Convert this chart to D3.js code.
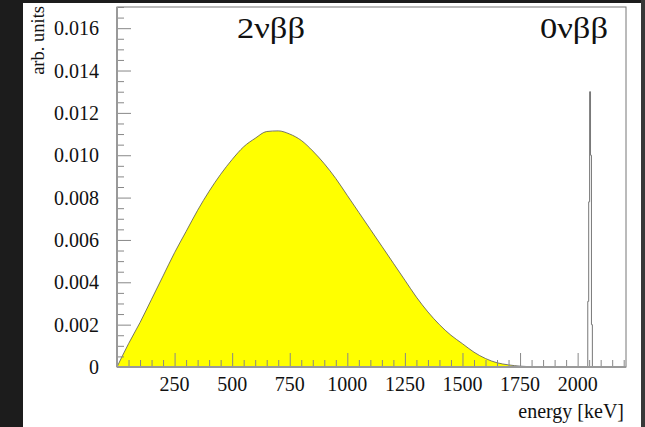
<!DOCTYPE html>
<html>
<head>
<meta charset="utf-8">
<script src="https://cdn.jsdelivr.net/npm/d3@7"></script>
<style>
    html, body { margin: 0; padding: 0; background: #1a1a1a; }
    svg { display: block; }
    text { font-family: 'Liberation Serif', 'DejaVu Serif', serif; fill: #111; }
</style>
</head>
<body>
<div id="chart"></div>
<script>
// tick labels
const xTicks = [250, 500, 750, 1000, 1250, 1500, 1750, 2000];
const yTicks = [0, 0.002, 0.004, 0.006, 0.008, 0.01, 0.012, 0.014, 0.016];

// 2 neutrino spectrum
const twoNuEnergy = [0, 50, 100, 150, 200, 250, 300, 350, 400, 450, 500, 550, 600, 650,
    700, 750, 800, 850, 900, 950, 1000, 1050, 1100, 1150, 1200, 1250, 1300, 1350, 1400,
    1450, 1500, 1550, 1600, 1650, 1700, 1750, 1800, 1830];
const twoNuValue = [0, 0.0011, 0.0021, 0.0032, 0.0043, 0.0054, 0.0064, 0.0074, 0.0083,
    0.0091, 0.0098, 0.0104, 0.0108, 0.01112, 0.01115, 0.011, 0.0107, 0.0102, 0.0096, 0.0089,
    0.0081, 0.0073, 0.0065, 0.0057, 0.0049, 0.0041, 0.0033, 0.0026, 0.002, 0.0015, 0.0011,
    0.0007, 0.0004, 0.0002, 0.0001, 0.00004, 0.00001, 0];

// 0 neutrino peak bins
const zeroNuEnergy = [2040, 2044, 2048, 2052, 2056, 2060, 2064, 2068];
const zeroNuValue = [0, 0.0031, 0.0078, 0.013, 0.01, 0.002, 0, 0];

const W = 645;
const H = 427;
const margin = { top: 7, right: 19, bottom: 60, left: 117 };

const svg = d3.select('#chart').append('svg')
    .attr('width', W)
    .attr('height', H);

// page background
svg.append('rect').attr('width', W).attr('height', H).attr('fill', '#1c1c1c');
svg.append('rect').attr('x', W - 4).attr('width', 4).attr('height', H).attr('fill', '#383838');
svg.append('rect').attr('x', 23).attr('y', 3).attr('width', W - 4 - 23).attr('height', H - 3)
    .attr('fill', '#fff');

const x = d3.scaleLinear().domain([0, 2210]).range([margin.left, W - margin.right]);
const y = d3.scaleLinear().domain([0, 0.017]).range([H - margin.bottom, margin.top]);

// spectrum
const twoNu = twoNuEnergy.map((e, i) => [e, twoNuValue[i]]);
const area = d3.area()
    .x((d) => x(d[0]))
    .y0(y(0))
    .y1((d) => y(d[1]))
    .curve(d3.curveMonotoneX);
svg.append('path')
    .datum(twoNu)
    .attr('d', area)
    .attr('fill', '#ffff00');
svg.append('path')
    .datum(twoNu)
    .attr('d', area.lineY1())
    .attr('fill', 'none')
    .attr('stroke', '#555')
    .attr('stroke-width', 0.8);

// peak
const zeroNu = zeroNuEnergy.map((e, i) => [e, zeroNuValue[i]]);
svg.append('path')
    .datum(zeroNu)
    .attr('d', d3.line().x((d) => x(d[0])).y((d) => y(d[1])).curve(d3.curveStepAfter))
    .attr('fill', 'none')
    .attr('stroke', '#777')
    .attr('stroke-width', 1);

// frame
svg.append('rect')
    .attr('x', x(0)).attr('y', y(0.017))
    .attr('width', x(2210) - x(0)).attr('height', y(0) - y(0.017))
    .attr('fill', 'none').attr('stroke', '#777').attr('stroke-width', 1);

// y axis: ticks point inward
const yAxis = svg.append('g').attr('transform', `translate(${x(0)},0)`);
yAxis.call(d3.axisRight(y).tickValues(d3.range(0, 0.01701, 0.0005)).tickSize(7).tickFormat(''));
yAxis.selectAll('.tick').filter((d) => yTicks.some((t) => Math.abs(t - d) < 1e-9))
    .select('line').attr('x2', 14);
yAxis.select('.domain').remove();
yAxis.selectAll('line').attr('stroke', '#888');
yAxis.selectAll('.tick text').remove();
svg.append('g').selectAll('text')
    .data(yTicks)
    .join('text')
    .attr('x', 99)
    .attr('y', (d) => y(d) + 7)
    .attr('text-anchor', 'end')
    .attr('font-size', 20)
    .text((d) => (d === 0 ? '0' : d3.format('.3f')(d)));

// x axis
const xAxis = svg.append('g').attr('transform', `translate(0,${y(0)})`);
xAxis.call(d3.axisTop(x).tickValues(d3.range(50, 2210, 50)).tickSize(7).tickFormat(''));
xAxis.selectAll('.tick').filter((d) => d % 250 === 0).select('line').attr('y2', -14);
xAxis.select('.domain').remove();
xAxis.selectAll('line').attr('stroke', '#888');
svg.append('g').selectAll('text')
    .data(xTicks)
    .join('text')
    .attr('x', (d) => x(d))
    .attr('y', 391)
    .attr('text-anchor', 'middle')
    .attr('font-size', 20)
    .text((d) => d);

// axis lines
svg.append('line').attr('x1', x(0)).attr('x2', x(0)).attr('y1', y(0)).attr('y2', y(0.017))
    .attr('stroke', '#999').attr('stroke-width', 2);
svg.append('line').attr('x1', x(0)).attr('x2', x(2210)).attr('y1', y(0)).attr('y2', y(0))
    .attr('stroke', '#999').attr('stroke-width', 2);

// titles
svg.append('text')
    .attr('x', 624).attr('y', 418)
    .attr('text-anchor', 'end')
    .attr('font-size', 20)
    .text('energy [keV]');
svg.append('text')
    .attr('transform', 'translate(44,6) rotate(-90)')
    .attr('text-anchor', 'end')
    .attr('font-size', 18.5)
    .text('arb. units');
svg.append('text')
    .attr('x', 237).attr('y', 38)
    .attr('font-size', 30)
    .attr('textLength', 68)
    .attr('lengthAdjust', 'spacingAndGlyphs')
    .text('2νββ');
svg.append('text')
    .attr('x', 540).attr('y', 38)
    .attr('font-size', 30)
    .attr('textLength', 68)
    .attr('lengthAdjust', 'spacingAndGlyphs')
    .text('0νββ');
</script>
</body>
</html>
